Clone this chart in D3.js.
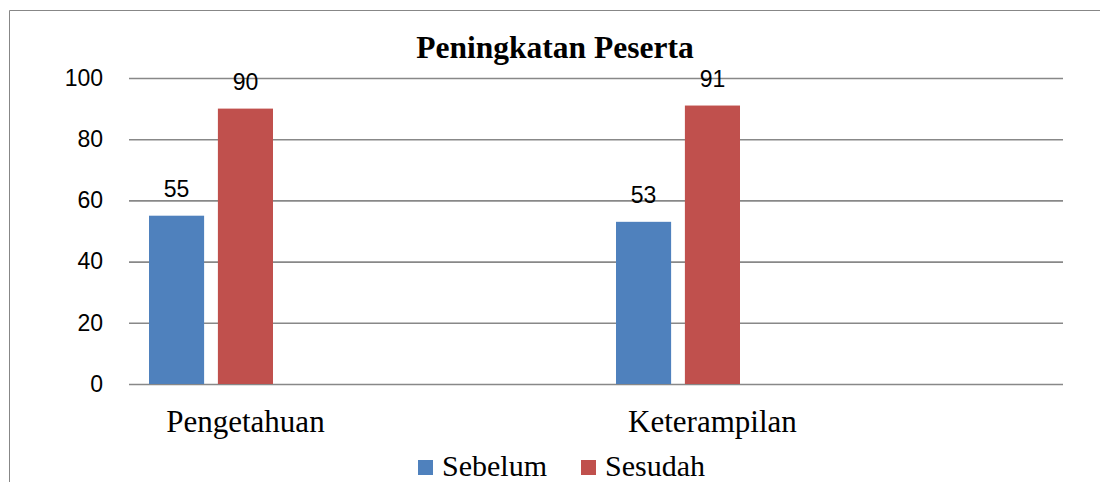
<!DOCTYPE html>
<html>
<head>
<meta charset="utf-8">
<script src="https://cdn.jsdelivr.net/npm/d3@7"></script>
<style>
  body { margin: 0; background: #fff; }
  svg { display: block; }
  .serif { font-family: "Liberation Serif", "Times New Roman", serif; }
  .sans { font-family: "Liberation Sans", Arial, sans-serif; }
</style>
</head>
<body>
<svg width="1100" height="482"></svg>
<script>
var width = 1100;
var height = 482;

// data
var categories = ['Pengetahuan', 'Keterampilan'];
var seriesNames = ['Sebelum', 'Sesudah'];
var sebelum = [55, 53];
var sesudah = [90, 91];
var yTicks = [0, 20, 40, 60, 80, 100];

var colors = { Sebelum: '#4F81BD', Sesudah: '#C0504D' };
var margin = { top: 78, left: 129, right: 37, bottom: 98 };

var data = categories.map((c, i) => ({
  cat: c,
  values: [
    { key: 'Sebelum', value: sebelum[i] },
    { key: 'Sesudah', value: sesudah[i] }
  ]
}));

var svg = d3.select('svg');

// outer frame (only top + left are visible in the crop)
svg.append('path')
  .attr('d', 'M9.5,' + height + 'V10.5H' + width)
  .attr('fill', 'none').attr('stroke', '#878787').attr('stroke-width', 1);

// scales
var x0 = d3.scaleBand().domain(categories)
  .range([margin.left, width - margin.right]).padding(0);
var x1 = d3.scaleBand().domain(seriesNames)
  .range([20, 144]).paddingInner(0.2).paddingOuter(0);
var y = d3.scaleLinear().domain([0, 100])
  .range([height - margin.bottom, margin.top]);

// gridlines + y labels
var yAxis = d3.axisLeft(y).tickValues(yTicks)
  .tickSize(-(width - margin.left - margin.right)).tickPadding(26);
var gy = svg.append('g')
  .attr('transform', 'translate(' + margin.left + ',0)')
  .call(yAxis);
gy.attr('font-family', null).attr('font-size', null);
gy.select('.domain').remove();
gy.selectAll('line').attr('stroke', '#888').attr('stroke-width', 1.6);
gy.selectAll('text').attr('class', 'sans')
  .attr('font-size', 23).attr('fill', '#000');

// bars
var groups = svg.selectAll('g.cat').data(data).enter().append('g')
  .attr('class', 'cat')
  .attr('transform', d => 'translate(' + x0(d.cat) + ',0)');

groups.selectAll('rect').data(d => d.values).enter().append('rect')
  .attr('x', d => x1(d.key))
  .attr('y', d => y(d.value))
  .attr('width', x1.bandwidth())
  .attr('height', d => y(0) - y(d.value))
  .attr('fill', d => colors[d.key]);

// value labels
groups.selectAll('text.val').data(d => d.values).enter().append('text')
  .attr('class', 'val sans')
  .attr('x', d => x1(d.key) + x1.bandwidth() / 2)
  .attr('y', d => y(d.value) - 19)
  .attr('text-anchor', 'middle')
  .attr('font-size', 23)
  .text(d => d.value);

// category labels (centered on the cluster incl. an empty third slot)
groups.append('text')
  .attr('class', 'serif')
  .attr('x', x1('Sesudah') + x1.bandwidth() / 2)
  .attr('y', 432)
  .attr('text-anchor', 'middle')
  .attr('font-size', 31)
  .text(d => d.cat);

// title
svg.append('text')
  .attr('class', 'serif')
  .attr('x', 555)
  .attr('y', 58)
  .attr('text-anchor', 'middle')
  .attr('font-weight', 'bold')
  .attr('font-size', 31.5)
  .text('Peningkatan Peserta');

// legend
var legendX = [418, 581];
var legend = svg.selectAll('g.legend').data(seriesNames).enter().append('g')
  .attr('class', 'legend')
  .attr('transform', (d, i) => 'translate(' + legendX[i] + ',460)');
legend.append('rect')
  .attr('width', 15).attr('height', 15)
  .attr('fill', d => colors[d]);
legend.append('text')
  .attr('class', 'serif')
  .attr('x', 24).attr('y', 15.5)
  .attr('font-size', 30)
  .text(d => d);
</script>
</body>
</html>
